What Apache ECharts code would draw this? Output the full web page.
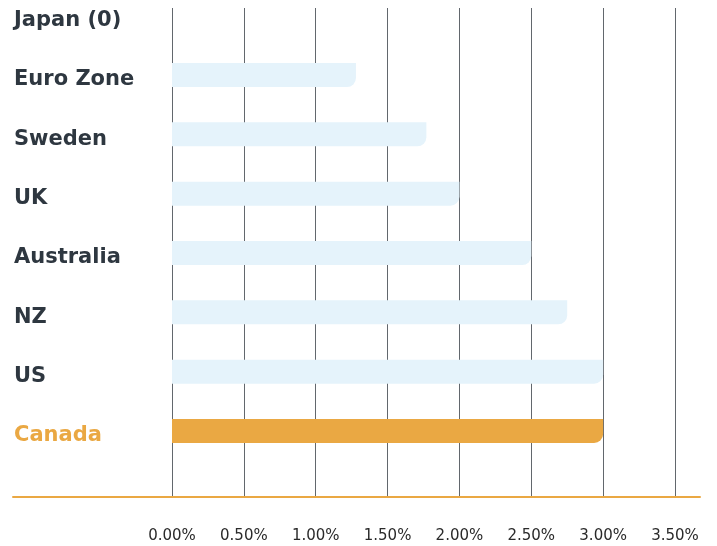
<!DOCTYPE html>
<html>
<head>
<meta charset="utf-8">
<script src="https://cdn.jsdelivr.net/npm/echarts@6/dist/echarts.min.js"></script>
<style>html,body{margin:0;padding:0;background:#fff}#c{width:717px;height:546px}</style>
</head>
<body>
<div id="c"></div>
<script>
var categories = ['Japan (0)', 'Euro Zone', 'Sweden', 'UK', 'Australia', 'NZ', 'US', 'Canada'];
var rates = [0, 1.28, 1.77, 2.0, 2.5, 2.75, 3.0, 3.0];
var highlight = 'Canada';
var tickLabels = ['0.00%', '0.50%', '1.00%', '1.50%', '2.00%', '2.50%', '3.00%', '3.50%'];

var BLUE = '#e5f3fb', ORANGE = '#eaa843', TEXT = '#2e3740';
var FONT = 'DejaVu Sans';
var labelStyle = {fontSize: 21, fontWeight: 'bold', fontFamily: FONT, padding: [10, 0, 0, 0]};

var chart = echarts.init(document.getElementById('c'), null, {renderer: 'canvas'});
chart.setOption({
  animation: false,
  grid: [
    {left: 172, right: 42, top: 8, bottom: 49},
    {left: 172, right: 42, top: 15.7, bottom: 115},
    {left: 13, right: 17, top: 496, bottom: 49}
  ],
  xAxis: [
    {gridIndex: 0, type: 'value', min: 0, max: 3.5, interval: 0.5,
     axisLine: {show: false}, axisTick: {show: false},
     splitLine: {show: true, lineStyle: {color: '#62676d', width: 1}},
     axisLabel: {margin: 32, fontSize: 15, color: '#2a2a2a', fontFamily: FONT,
       formatter: function (v) { return tickLabels[Math.round(v / 0.5)]; }}},
    {gridIndex: 1, type: 'value', min: 0, max: 3.5, show: false},
    {gridIndex: 2, type: 'value', min: 0, max: 1, position: 'bottom',
     axisLine: {show: true, lineStyle: {color: ORANGE, width: 2}},
     axisTick: {show: false}, axisLabel: {show: false}, splitLine: {show: false}}
  ],
  yAxis: [
    {gridIndex: 0, type: 'value', show: false},
    {gridIndex: 1, type: 'category', inverse: true, boundaryGap: false, data: categories,
     axisLine: {show: false}, axisTick: {show: false}, splitLine: {show: false},
     axisLabel: {margin: 158, align: 'left',
       formatter: function (v) { return '{' + (v === highlight ? 'h' : 'n') + '|' + v + '}'; },
       rich: {
         n: Object.assign({color: TEXT}, labelStyle),
         h: Object.assign({color: ORANGE}, labelStyle)
       }}},
    {gridIndex: 2, type: 'value', show: false}
  ],
  series: [{
    type: 'bar', xAxisIndex: 1, yAxisIndex: 1, barWidth: 24, z: 5,
    data: rates.map(function (v, i) {
      return {value: v, itemStyle: {color: categories[i] === highlight ? ORANGE : BLUE,
        borderRadius: [0, 0, 9, 0]}};
    })
  }]
});
</script>
</body>
</html>
